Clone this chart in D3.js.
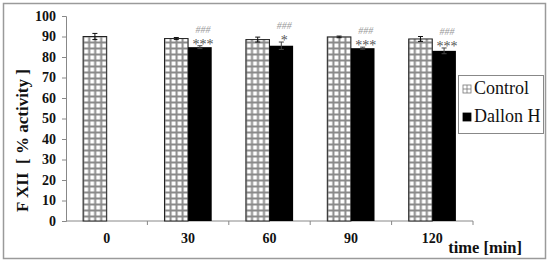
<!DOCTYPE html>
<html>
<head>
<meta charset="utf-8">
<script src="https://cdn.jsdelivr.net/npm/d3@7.9.0/dist/d3.min.js"></script>
</head>
<body style="margin:0">
<svg id="chart" width="550" height="266"></svg>
<script>
const categories = ['0', '30', '60', '90', '120'];
const controlValues = [90, 89, 88.5, 89.8, 88.8];
const controlErrors = [1.5, 0.5, 1.2, 0.4, 1.2];
const dallonValues = [null, 84.8, 85.5, 84.3, 83];
const dallonErrors = [null, 0.7, 1.8, 0.5, 1.4];
const starLabels = ['', '***', '*', '***', '***'];
const hashLabels = ['', '###', '###', '###', '###'];
const yTicks = [0, 10, 20, 30, 40, 50, 60, 70, 80, 90, 100];
const seriesNames = ['Control', 'Dallon H'];

const FONT = 'Liberation Serif';
const width = 550;
const height = 266;
const margin = { top: 16, right: 77, bottom: 45, left: 66 };

const svg = d3.select('#chart');

// grid pattern for control bars
const defs = svg.append('defs');
const pat = defs.append('pattern')
  .attr('id', 'grid')
  .attr('patternUnits', 'userSpaceOnUse')
  .attr('width', 6)
  .attr('height', 6);
pat.append('rect').attr('width', 6).attr('height', 6).attr('fill', '#8a8a8a');
pat.append('rect').attr('x', 1.5).attr('y', 1.5).attr('width', 4).attr('height', 4).attr('fill', '#fff');

// outer frame
svg.append('rect')
  .attr('x', 3.5).attr('y', 3.5)
  .attr('width', 542).attr('height', 255)
  .attr('fill', 'none')
  .attr('stroke', '#9a9a9a')
  .attr('stroke-width', 1.5);

const x = d3.scaleBand()
  .domain(categories)
  .range([margin.left, width - margin.right]);

const y = d3.scaleLinear()
  .domain([0, 100])
  .range([height - margin.bottom, margin.top]);

const barW = x.bandwidth() * 0.29;

// y axis
const yAxis = svg.append('g')
  .attr('transform', `translate(${margin.left},0)`)
  .call(d3.axisLeft(y).tickValues(yTicks).tickSize(4).tickPadding(6));
yAxis.attr('font-family', FONT);
yAxis.select('.domain').attr('stroke', '#888').attr('stroke-width', 1);
yAxis.selectAll('.tick line').attr('stroke', '#888');
yAxis.selectAll('.tick text')
  .attr('font-family', FONT)
  .attr('font-size', 14)
  .attr('font-weight', 'bold')
  .attr('fill', '#111');

// x axis with ticks between categories
const xAxis = svg.append('g')
  .attr('transform', `translate(0,${y(0)})`);
xAxis.append('line')
  .attr('x1', margin.left).attr('x2', width - margin.right)
  .attr('stroke', '#888');
xAxis.selectAll('line.sep')
  .data(categories)
  .join('line')
  .attr('class', 'sep')
  .attr('x1', d => x(d) + x.bandwidth())
  .attr('x2', d => x(d) + x.bandwidth())
  .attr('y1', 0).attr('y2', 4)
  .attr('stroke', '#888');
xAxis.selectAll('text')
  .data(categories)
  .join('text')
  .attr('x', d => x(d) + x.bandwidth() / 2)
  .attr('y', 22)
  .attr('text-anchor', 'middle')
  .attr('font-family', FONT)
  .attr('font-size', 14)
  .attr('font-weight', 'bold')
  .attr('fill', '#111')
  .text(d => d);

// bars
const groups = svg.append('g')
  .selectAll('g')
  .data(categories)
  .join('g')
  .attr('transform', d => `translate(${x(d) + x.bandwidth() / 2},0)`);

groups.append('rect')
  .attr('x', -barW)
  .attr('y', (d, i) => y(controlValues[i]))
  .attr('width', barW)
  .attr('height', (d, i) => y(0) - y(controlValues[i]))
  .attr('fill', 'url(#grid)')
  .attr('stroke', '#222')
  .attr('stroke-width', 1);

groups.filter((d, i) => dallonValues[i] != null)
  .append('rect')
  .attr('x', 0)
  .attr('y', d => y(dallonValues[categories.indexOf(d)]))
  .attr('width', barW)
  .attr('height', d => y(0) - y(dallonValues[categories.indexOf(d)]))
  .attr('fill', '#000');

// error bars
function errorBar(sel, cx, v, e, color) {
  const g = sel.append('g').attr('stroke', color).attr('stroke-width', 1);
  g.append('line').attr('x1', cx).attr('x2', cx).attr('y1', y(v - e)).attr('y2', y(v + e));
  g.append('line').attr('x1', cx - 2.5).attr('x2', cx + 2.5).attr('y1', y(v + e)).attr('y2', y(v + e));
  g.append('line').attr('x1', cx - 2.5).attr('x2', cx + 2.5).attr('y1', y(v - e)).attr('y2', y(v - e));
}
groups.each(function (d, i) {
  const g = d3.select(this);
  errorBar(g, -barW / 2, controlValues[i], controlErrors[i], '#111');
  if (dallonValues[i] != null) errorBar(g, barW / 2, dallonValues[i], dallonErrors[i], '#444');
});

// significance labels
groups.append('text')
  .attr('x', barW / 2 + 3)
  .attr('y', (d, i) => dallonValues[i] == null ? 0 : y(dallonValues[i] + dallonErrors[i]) + 3)
  .attr('text-anchor', 'middle')
  .attr('font-family', FONT)
  .attr('font-size', 14)
  .attr('fill', '#555')
  .text((d, i) => starLabels[i]);

groups.append('text')
  .attr('x', barW / 2 + 3)
  .attr('y', (d, i) => dallonValues[i] == null ? 0 : y(dallonValues[i] + dallonErrors[i]) - 13)
  .attr('text-anchor', 'middle')
  .attr('font-family', FONT)
  .attr('font-size', 10)
  .attr('font-style', 'italic')
  .attr('fill', '#999')
  .text((d, i) => hashLabels[i]);

// y title
svg.append('text')
  .attr('transform', `translate(28,${(y(0) + y(100)) / 2 + 22}) rotate(-90)`)
  .attr('text-anchor', 'middle')
  .attr('font-family', FONT)
  .attr('font-size', 17)
  .attr('font-weight', 'bold')
  .attr('fill', '#111')
  .text('F XII \u00a0[ % activity ]');

// x title
svg.append('text')
  .attr('x', 522)
  .attr('y', 253)
  .attr('text-anchor', 'end')
  .attr('font-family', FONT)
  .attr('font-size', 16.5)
  .attr('font-weight', 'bold')
  .attr('fill', '#111')
  .text('time [min]');

// legend
const legend = svg.append('g');
legend.append('rect')
  .attr('x', 458.5).attr('y', 75.5)
  .attr('width', 85).attr('height', 58)
  .attr('fill', '#fff')
  .attr('stroke', '#888')
  .attr('stroke-width', 1);
const items = legend.selectAll('g.item')
  .data(seriesNames)
  .join('g')
  .attr('class', 'item')
  .attr('transform', (d, i) => `translate(463,${85 + i * 28})`);
items.append('rect')
  .attr('width', 8).attr('height', 8)
  .attr('fill', (d, i) => i === 0 ? '#fff' : '#000')
  .attr('stroke', (d, i) => i === 0 ? '#777' : '#000')
  .attr('stroke-width', 0.8);
items.filter((d, i) => i === 0).append('path')
  .attr('d', 'M4,0V8M0,4H8')
  .attr('stroke', '#777')
  .attr('stroke-width', 0.8);
items.append('text')
  .attr('x', 11)
  .attr('y', 8.5)
  .attr('font-family', FONT)
  .attr('font-size', 18)
  .attr('fill', '#111')
  .text(d => d);
</script>
</body>
</html>
